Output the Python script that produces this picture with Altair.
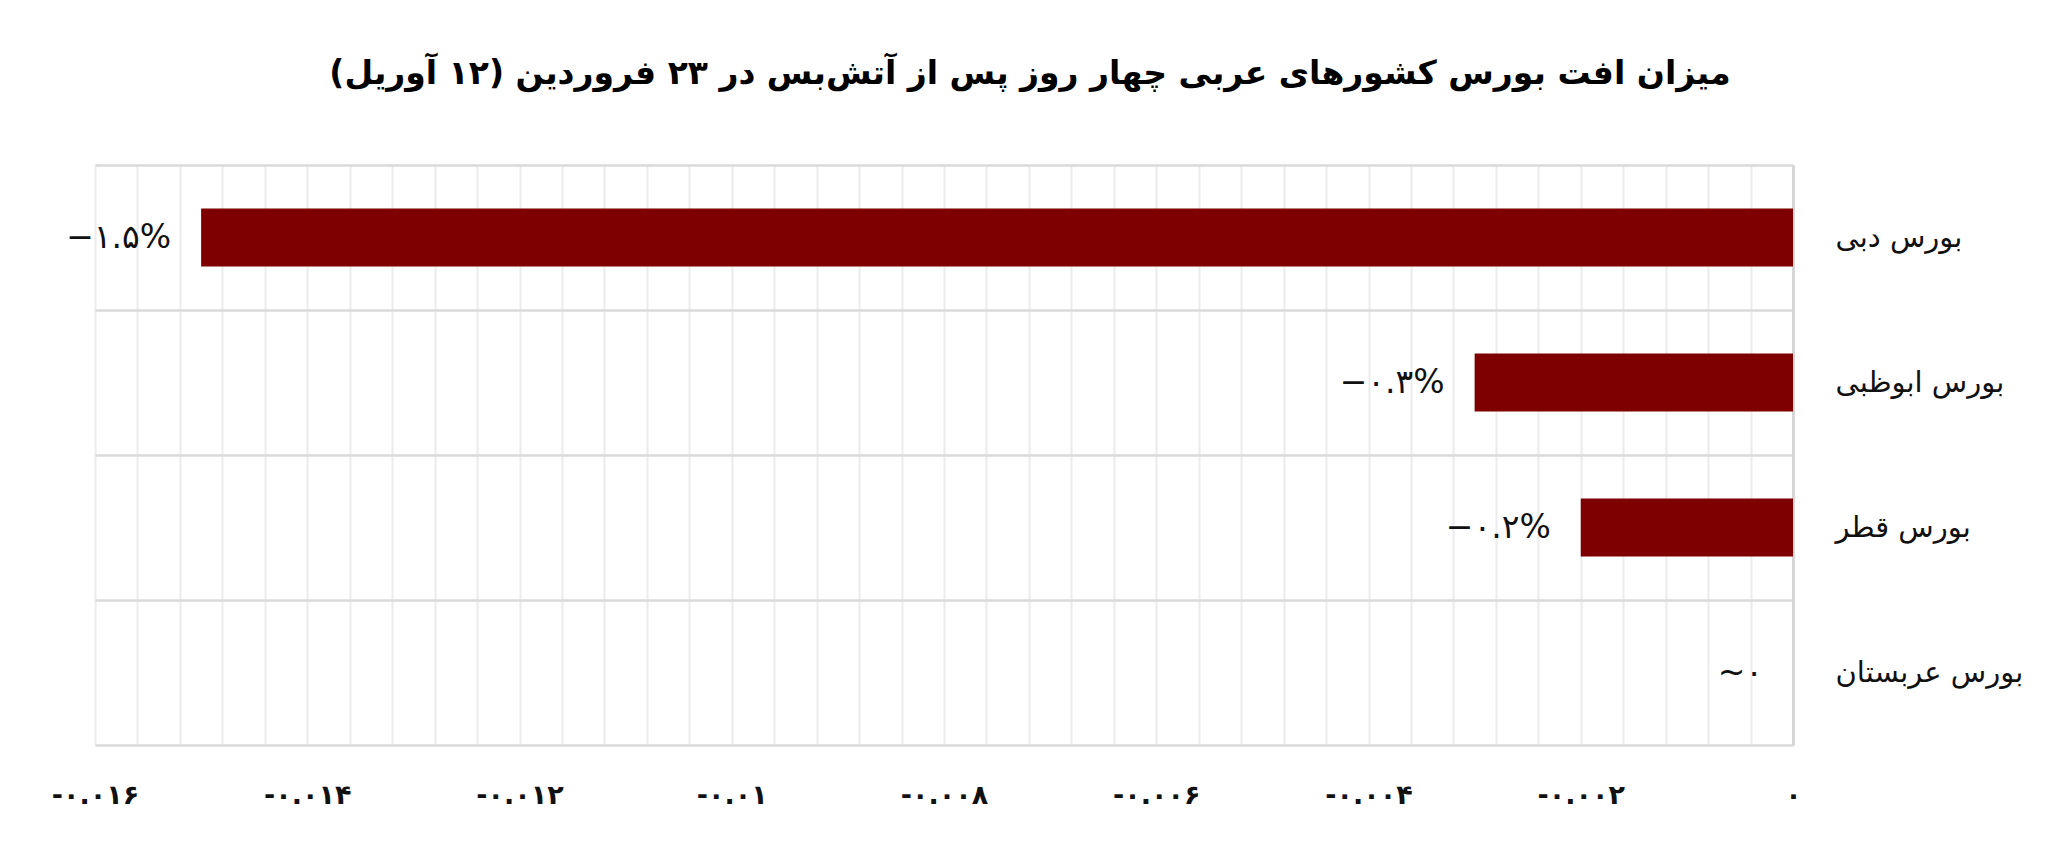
import altair as alt
import pandas as pd

# Data
markets = ["بورس دبی", "بورس ابوظبی", "بورس قطر", "بورس عربستان"]
changes = [-0.015, -0.003, -0.002, 0.0]
value_labels = ["−۱.۵%", "−۰.۳%", "−۰.۲%", "~۰"]

tick_values = [-0.016, -0.014, -0.012, -0.01, -0.008, -0.006, -0.004, -0.002, 0]
tick_labels = ["-۰.۰۱۶", "-۰.۰۱۴", "-۰.۰۱۲", "-۰.۰۱", "-۰.۰۰۸", "-۰.۰۰۶", "-۰.۰۰۴", "-۰.۰۰۲", "۰"]

title_text = "میزان افت بورس کشورهای عربی چهار روز پس از آتش\u200cبس در ۲۳ فروردین (۱۲ آوریل)\u200f"

df = pd.DataFrame({"market": markets, "change": changes, "label": value_labels})

grid_values = [round(-0.016 + 0.0004 * i, 4) for i in range(41)]

label_expr = "''"
for v, l in reversed(list(zip(tick_values, tick_labels))):
    label_expr = f"abs(datum.value - ({v})) < 1e-9 ? '{l}' : ({label_expr})"

FONT = "DejaVu Sans"

x_enc = alt.X(
    "change:Q",
    scale=alt.Scale(domain=[-0.016, 0], nice=False, zero=False),
    axis=alt.Axis(
        values=grid_values,
        labelExpr=label_expr,
        title=None,
        ticks=False,
        domain=False,
        grid=True,
        gridColor="#ececec",
        gridWidth=2,
        labelFont=FONT,
        labelFontSize=27,
        labelFontWeight="bold",
        labelColor="#111111",
        labelPadding=37,
        labelOverlap=False,
        labelFlush=False,
    ),
)

y_enc = alt.Y(
    "market:N",
    sort=markets,
    scale=alt.Scale(paddingInner=0, paddingOuter=0),
    axis=alt.Axis(
        orient="right",
        title=None,
        ticks=False,
        domain=True,
        domainColor="#d6d6d6",
        domainWidth=3,
        grid=True,
        gridColor="#dadada",
        gridWidth=2.5,
        tickBand="extent",
        labelAlign="left",
        labelPadding=42,
        labelLimit=400,
        labelFont=FONT,
        labelFontSize=29,
        labelColor="#111111",
    ),
)

bars = alt.Chart(df).mark_bar(color="#7f0000", size=58).encode(x=x_enc, y=y_enc)

texts = alt.Chart(df).mark_text(
    align="right", baseline="middle", dx=-30, font=FONT, fontSize=33, color="#111111"
).encode(x="change:Q", y=alt.Y("market:N", sort=markets), text="label:N")

chart = (
    alt.layer(bars, texts)
    .properties(
        width=1698,
        height=580,
        autosize=alt.AutoSizeParams(type="none"),
        padding={"left": 87, "top": 157, "right": 259, "bottom": 100},
        background="white",
        title=alt.TitleParams(
            text=title_text,
            font=FONT,
            fontSize=33,
            fontWeight="bold",
            color="#000000",
            anchor="middle",
            dx=86,
            offset=60,
        ),
    )
    .configure_view(strokeWidth=0)
)

chart.save("out.html", embed_options={"renderer": "svg", "actions": False})
